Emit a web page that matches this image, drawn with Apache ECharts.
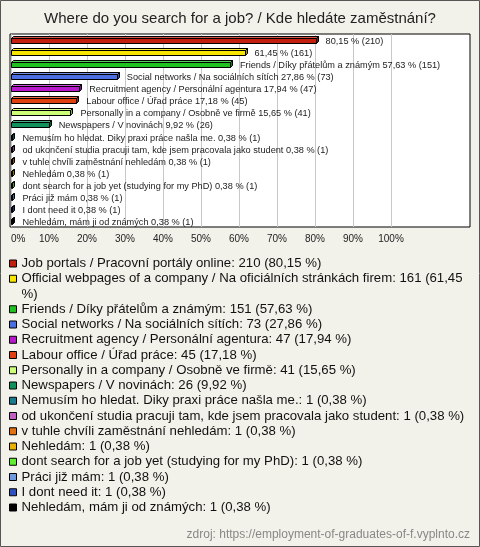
<!DOCTYPE html>
<html>
<head>
<meta charset="utf-8">
<script src="https://cdn.jsdelivr.net/npm/echarts@6/dist/echarts.min.js"></script>
<style>
html,body{margin:0;padding:0;background:#f3f2ea;}
#c{width:480px;height:547px;}
</style>
</head>
<body>
<div id="c"></div>
<script>
var categories = [
  "Job portals / Pracovní portály online",
  "Official webpages of a company / Na oficiálních stránkách firem",
  "Friends / Díky přátelům a známým",
  "Social networks / Na sociálních sítích",
  "Recruitment agency / Personální agentura",
  "Labour office / Úřad práce",
  "Personally in a company / Osobně ve firmě",
  "Newspapers / V novinách",
  "Nemusím ho hledat. Diky praxi práce našla me.",
  "od ukončení studia pracuji tam, kde jsem pracovala jako student",
  "v tuhle chvíli zaměstnání nehledám",
  "Nehledám",
  "dont search for a job yet (studying for my PhD)",
  "Práci již mám",
  "I dont need it",
  "Nehledám, mám ji od známých"
];
var counts = [210, 161, 151, 73, 47, 45, 41, 26, 1, 1, 1, 1, 1, 1, 1, 1];
var percents = [80.15, 61.45, 57.63, 27.86, 17.94, 17.18, 15.65, 9.92, 0.38, 0.38, 0.38, 0.38, 0.38, 0.38, 0.38, 0.38];
var showNameInBarLabel = [false, false, true, true, true, true, true, true, true, true, true, true, true, true, true, true];
var colors = ["#c41e0e", "#f8e600", "#1fc01f", "#4a6fe0", "#b818cc", "#e04010", "#ccff77", "#10905a",
              "#1a7a90", "#c060c0", "#e07010", "#e8b000", "#60ee30", "#6f9ae0", "#3050c0", "#000000"];
var xTicks = [0, 10, 20, 30, 40, 50, 60, 70, 80, 90, 100];
var titleText = "Where do you search for a job? / Kde hledáte zaměstnání?";
var sourceText = "zdroj: https://employment-of-graduates-of-f.vyplnto.cz";

var FONT = '"Liberation Sans", Arial, sans-serif';
function fmtPct(p) { return p.toFixed(2).replace('.', ','); }

var barData = percents.map(function (p, i) { return [p, i]; });

function shade(hex, f) {
  var n = parseInt(hex.slice(1), 16);
  var r = (n >> 16) & 255, g = (n >> 8) & 255, b = n & 255;
  function c(v) { v = f > 0 ? v + (255 - v) * f : v * (1 + f); return Math.max(0, Math.min(255, Math.round(v))); }
  return 'rgb(' + c(r) + ',' + c(g) + ',' + c(b) + ')';
}

function renderBar(params, api) {
  var i = params.dataIndex;
  var v = api.value(0), idx = api.value(1);
  var p0 = api.coord([0, idx]);
  var p1 = api.coord([v, idx]);
  var x0 = Math.round(p0[0]) + 0.5, x1 = Math.round(p1[0]) + 0.5;
  var cy = Math.round(p0[1]);
  var d = 2, top = cy - 1.5, bot = cy + 3.5;
  var col = colors[i];
  var lineStyle = { stroke: '#000', lineWidth: 1 };
  var label = (showNameInBarLabel[i] ? categories[i] + ' ' : '') + fmtPct(percents[i]) + ' % (' + counts[i] + ')';
  return {
    type: 'group',
    children: [
      { type: 'polygon', shape: { points: [[x0, top], [x0 + d, top - d], [x1 + d, top - d], [x1, top]] },
        style: Object.assign({ fill: shade(col, 0.25) }, lineStyle) },
      { type: 'polygon', shape: { points: [[x1, top], [x1 + d, top - d], [x1 + d, bot - d], [x1, bot]] },
        style: Object.assign({ fill: shade(col, -0.35) }, lineStyle) },
      { type: 'rect', shape: { x: x0, y: top, width: x1 - x0, height: bot - top },
        style: Object.assign({ fill: col }, lineStyle) },
      { type: 'text', x: p1[0] + 10, y: cy + 1,
        style: { text: label, fill: '#222', font: '9.2px ' + FONT,
                 verticalAlign: 'middle', align: 'left' } }
    ]
  };
}

var legendData = [];
var legendSeries = [];
categories.forEach(function (c, i) {
  legendData.push({ name: c, itemStyle: { color: colors[i], borderColor: '#000', borderWidth: 1 } });
  legendSeries.push({ name: c, type: 'bar', data: [], xAxisIndex: 1, yAxisIndex: 1, itemStyle: { color: colors[i] } });
  if (i === 1) {
    legendData.push({ name: '%)', icon: 'none' });
    legendSeries.push({ name: '%)', type: 'bar', data: [], xAxisIndex: 1, yAxisIndex: 1, itemStyle: { color: 'rgba(0,0,0,0)' } });
  }
});
var legendText = {};
categories.forEach(function (c, i) {
  var t = c + ': ' + counts[i] + ' (' + fmtPct(percents[i]) + ' %)';
  if (i === 1) t = c + ': ' + counts[i] + ' (' + fmtPct(percents[i]);
  legendText[c] = t;
});
legendText['%)'] = '%)';

var chart = echarts.init(document.getElementById('c'), null, { renderer: 'canvas' });
chart.setOption({
  backgroundColor: '#f3f2ea',
  animation: false,
  textStyle: { fontFamily: FONT },
  title: [
    { text: titleText, left: 'center', top: 11, padding: 0,
      textStyle: { fontSize: 15, fontWeight: 'normal', color: '#222', fontFamily: FONT } },
    { text: sourceText, right: 10, top: 529, padding: 0,
      textStyle: { fontSize: 12, fontWeight: 'normal', color: '#888', fontFamily: FONT } }
  ],
  grid: [
    { left: 10, top: 34, right: 10, height: 193, show: true, backgroundColor: '#fff', borderColor: '#000', borderWidth: 1 },
    { left: 11, top: 34, width: 380, height: 193, show: false }
  ],
  xAxis: [
    { gridIndex: 0, type: 'value', show: false },
    { gridIndex: 1, type: 'value', min: xTicks[0], max: xTicks[xTicks.length - 1], interval: 10,
      axisLine: { show: false }, axisTick: { show: false },
      splitLine: { show: true, lineStyle: { color: '#c8c8c8', width: 1 } },
      axisLabel: { formatter: function (v) { return v + '%'; }, color: '#222', fontSize: 10, margin: 7,
                   alignMinLabel: 'left', fontFamily: FONT } }
  ],
  yAxis: [
    { gridIndex: 0, type: 'value', show: false },
    { gridIndex: 1, type: 'category', data: categories, inverse: true, show: false }
  ],
  legend: {
    orient: 'vertical', left: 9, top: 256, padding: 0,
    itemWidth: 7, itemHeight: 7, itemGap: 0.25,
    selectedMode: false,
    icon: 'rect',
    data: legendData,
    formatter: function (name) { return legendText[name]; },
    textStyle: { fontSize: 13.2, color: '#111', lineHeight: 15, fontFamily: FONT }
  },
  graphic: [
    { type: 'rect', shape: { x: 0.5, y: 0.5, width: 479, height: 546 }, style: { fill: 'none', stroke: '#555', lineWidth: 1 }, silent: true }
  ],
  series: legendSeries.concat([{
    name: 'bars',
    type: 'custom',
    xAxisIndex: 1, yAxisIndex: 1,
    renderItem: renderBar,
    encode: { x: 0, y: 1 },
    data: barData,
    z: 5
  }])
});
</script>
</body>
</html>
